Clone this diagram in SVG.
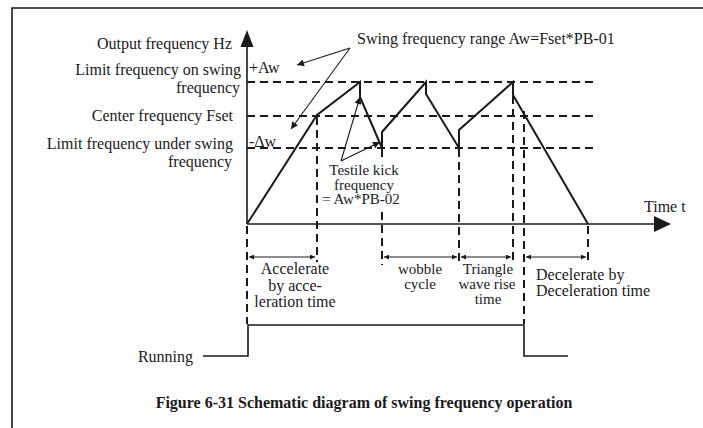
<svg xmlns="http://www.w3.org/2000/svg" width="703" height="428" viewBox="0 0 703 428">
<defs>
<style>
text{font-family:"Liberation Serif","Times New Roman",serif;font-size:16px;fill:#1a1a1a}
.r{text-anchor:end}
.c{text-anchor:middle}
.s{font-size:15px}
.cap{font-weight:bold;text-anchor:middle}
.dash{stroke:#1a1a1a;stroke-width:2;stroke-dasharray:8,5;fill:none}
.solid{stroke:#1a1a1a;stroke-width:1.6;fill:none}
.wave{stroke:#1a1a1a;stroke-width:2;fill:none;stroke-linejoin:miter}
.ptr{stroke:#1a1a1a;stroke-width:1.1;fill:none;marker-end:url(#ah)}
.dim{stroke:#1a1a1a;stroke-width:1;fill:none;marker-start:url(#da);marker-end:url(#da)}
</style>
<marker id="ah" viewBox="0 0 10 10" refX="10" refY="5" markerWidth="9" markerHeight="7" markerUnits="userSpaceOnUse" orient="auto"><path d="M0,0 L10,5 L0,10 z" fill="#1a1a1a"/></marker>
<marker id="da" viewBox="0 0 10 10" refX="10" refY="5" markerWidth="7" markerHeight="5" markerUnits="userSpaceOnUse" orient="auto-start-reverse"><path d="M0,0 L10,5 L0,10 z" fill="#1a1a1a"/></marker>
</defs>
<rect width="703" height="428" fill="#fff"/>
<g id="frame"><path class="solid" d="M12,428 V8 H703"/></g>

<g id="axes">
<line class="solid" x1="247" y1="224" x2="247" y2="44"/>
<polygon points="247,30 240.5,47 253.5,47" fill="#1a1a1a"/>
<line class="solid" x1="247" y1="224" x2="656" y2="224"/>
<polygon points="671,224 654,216 654,232" fill="#1a1a1a"/>
</g>

<g id="levels">
<line class="dash" x1="247" y1="82" x2="593" y2="82"/>
<line class="dash" x1="247" y1="116" x2="593" y2="116"/>
<line class="dash" x1="247" y1="148" x2="593" y2="148"/>
</g>

<g id="guides">
<line class="dash" x1="247" y1="226" x2="247" y2="324"/>
<line class="dash" x1="317" y1="117" x2="317" y2="262"/>
<line class="dash" x1="382" y1="149" x2="382" y2="158"/>
<line class="dash" x1="382" y1="212" x2="382" y2="265"/>
<line class="dash" x1="459" y1="149" x2="459" y2="265"/>
<line class="dash" x1="513" y1="96" x2="513" y2="262"/>
<line class="dash" x1="524" y1="111" x2="524" y2="324"/>
<line class="dash" x1="588" y1="226" x2="588" y2="262"/>
</g>

<g id="waveform">
<polyline class="wave" points="247,224 317,115 360,82 360,97 382,148 382,132 426,82 426,94 459,148 459,130 513,82 513,95 588,224"/>
</g>

<g id="running">
<polyline class="solid" points="203,356 248,356 248,325 524,325 524,356 568,356"/>
<text x="193" y="362" class="r">Running</text>
</g>

<g id="connectors">
<line class="ptr" x1="350" y1="48" x2="297" y2="65"/>
<line class="ptr" x1="350" y1="48" x2="291" y2="129"/>
<line class="ptr" x1="341" y1="161" x2="360" y2="97"/>
<line class="ptr" x1="341" y1="161" x2="380" y2="142"/>
<line class="dim" x1="249" y1="257" x2="315" y2="257"/>
<line class="dim" x1="384" y1="257" x2="457" y2="257"/>
<line class="dim" x1="461" y1="257" x2="511" y2="257"/>
<line class="dim" x1="526" y1="257" x2="586" y2="257"/>
</g>

<g id="labels">
<text x="232" y="49" class="r">Output frequency Hz</text>
<text x="241" y="75" class="r">Limit frequency on swing</text>
<text x="240" y="93" class="r">frequency</text>
<text x="233" y="121" class="r">Center frequency Fset</text>
<text x="233" y="149" class="r">Limit frequency under swing</text>
<text x="232" y="167" class="r">frequency</text>
<text x="249" y="73">+Aw</text>
<text x="249" y="147">-Δw</text>
<text x="357" y="44">Swing frequency range Aw=Fset*PB-01</text>
<text x="364" y="175" class="c s">Testile kick</text>
<text x="364" y="189.5" class="c s">frequency</text>
<text x="361" y="204" class="c s">= Aw*PB-02</text>
<text x="644" y="212">Time t</text>
<text x="295" y="274" class="c">Accelerate</text>
<text x="295" y="291" class="c">by acce-</text>
<text x="295" y="307" class="c">leration time</text>
<text x="420" y="274" class="c s">wobble</text>
<text x="420" y="289" class="c s">cycle</text>
<text x="488" y="274" class="c s">Triangle</text>
<text x="487" y="289" class="c s">wave rise</text>
<text x="488" y="304" class="c s">time</text>
<text x="536" y="280">Decelerate by</text>
<text x="536" y="296">Deceleration time</text>
</g>

<g id="caption">
<text x="364" y="408" class="cap">Figure 6-31 Schematic diagram of swing frequency operation</text>
</g>
</svg>
